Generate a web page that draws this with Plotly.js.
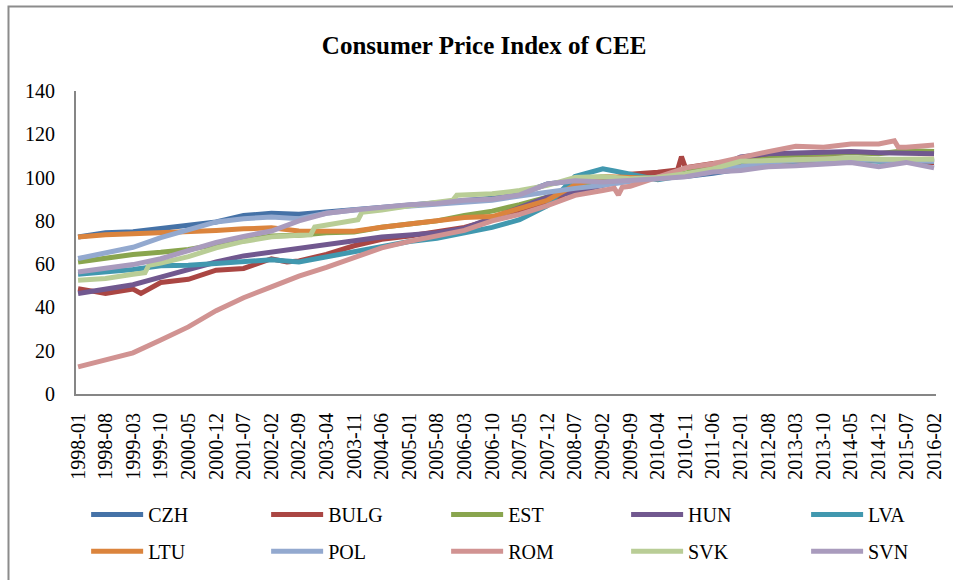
<!DOCTYPE html>
<html>
<head>
<meta charset="utf-8">
<script src="https://cdn.plot.ly/plotly-3.0.1.min.js"></script>
<style>html,body{margin:0;padding:0;background:#fff;}#chart{width:953px;height:580px;}</style>
</head>
<body>
<div id="chart"></div>
<script>
const months = ['1998-01','1998-08','1999-03','1999-05','1999-06','1999-07','1999-10','2000-05','2000-12','2001-07',
  '2002-02','2002-06','2002-09','2002-12','2003-01','2003-04','2003-11','2003-12','2004-01','2004-06',
  '2005-01','2005-08','2005-12','2006-01','2006-03','2006-10','2007-05','2007-12','2008-07','2009-02',
  '2009-05','2009-06','2009-07','2009-09','2010-04','2010-09','2010-10','2010-11','2011-06','2012-01',
  '2012-08','2013-03','2013-10','2014-05','2014-12','2015-04','2015-05','2015-07','2016-02'];

const tickLabels = ['1998-01','1998-08','1999-03','1999-10','2000-05','2000-12','2001-07','2002-02','2002-09','2003-04',
  '2003-11','2004-06','2005-01','2005-08','2006-03','2006-10','2007-05','2007-12','2008-07','2009-02',
  '2009-09','2010-04','2010-11','2011-06','2012-01','2012-08','2013-03','2013-10','2014-05','2014-12',
  '2015-07','2016-02'];

const seriesNames = ['CZH','BULG','EST','HUN','LVA','LTU','POL','ROM','SVK','SVN'];

const CZH = [72.5,74.5,75,null,null,null,76.5,78,79.5,82.5,
  83.5,null,83,null,null,84,85,null,null,86.5,
  87.5,88.3,null,null,89.5,90.5,92.5,97,98.5,98.5,
  null,null,null,99,100,null,null,100.5,102,104,
  106,107,107.5,108,108,null,null,108,108];
const BULG = [48.7,46.5,48.5,46.5,null,null,51.5,53,57.2,58,
  62.5,61,61.5,null,null,64.5,68.5,null,null,71.5,
  73,75,null,null,77,80.5,84,88,95,98.5,
  null,null,null,101.5,102.5,103.5,109.7,104.5,106.5,107.5,
  110,110.5,109.5,108.5,108,null,null,107,107];
const EST = [61,63,64.5,null,null,null,65.5,66.8,69,71,
  73,null,73.3,null,null,74.5,74.8,null,null,77,
  78.5,80,null,null,82.5,84.5,87.5,91,96.5,99,
  null,null,null,100,100,null,null,102,105.5,107,
  109,110.5,111,111.5,111,null,null,112.5,112];
const HUN = [46.4,48.3,50.5,null,null,null,54,57.5,61,63.8,
  65.5,null,67.5,null,null,68.7,70.5,null,null,72.5,
  73.5,74.5,null,null,76.5,81.5,86,91,93.3,96.4,
  null,null,null,99.5,100,null,null,101.5,104,109.5,
  111,111.5,112,112,111.5,null,null,111.5,111];
const LVA = [55.3,56.4,57.5,null,null,null,59.3,59.5,60.3,61,
  62,null,61,null,null,63.5,65.5,null,null,68,
  70.5,72,null,null,74.5,77,80.5,87,100.5,104,
  103,null,null,101.5,99,null,null,101,104.5,106,
  107,107,107.5,108,107.5,null,null,108,107.5];
const LTU = [72.5,73.6,74,null,null,null,74.5,74.7,75.6,76.3,
  76.8,null,75.3,null,null,75,75.2,null,null,77,
  78.5,80,null,null,81.5,82,85.6,89.5,96.5,100.5,
  null,null,null,100,99.5,null,null,101,104.5,105,
  107,108,108,108.5,108,null,null,108.5,108.5];
const POL = [62.6,65,67.8,null,null,null,72.3,76,79.5,81,
  81.8,null,81,null,null,83.5,85,null,null,86,
  87,87.5,null,null,88.5,89.5,91.5,93.5,95,96.5,
  null,null,null,98.5,100,null,null,101.5,104,105,
  107,108,108.5,108.5,108,null,null,107.5,107.5];
const ROM = [12.5,15.5,19,null,null,null,25,31,38.5,44.5,
  49.5,null,54.5,null,null,58.5,63,null,null,67.5,
  70.5,73,null,null,75.6,80,83,87,91.8,94,
  95,92,95.5,96,100.4,null,null,104.5,106.4,109.5,
  112,114.5,114,115.5,115.5,117,114,114,115];
const SVK = [52.6,53.4,55.3,null,56,59.5,60.5,63.5,67.5,70.5,
  72.6,null,73.3,73.5,77.2,78,80,80.5,84,85,
  87,88.5,89.5,91.8,92,92.5,94,96.4,100,100.5,
  null,null,null,99.5,100,null,null,101.8,104,107.5,
  108,108.5,109,109,108.5,null,null,108.7,108.5];
const SVN = [56.4,58,59.8,null,null,null,62.5,66,70,72.8,
  75.3,null,80,null,null,83.5,85,null,null,86.5,
  87.5,88,null,null,89.5,90,92,97,98.5,98,
  null,null,null,98.6,99.5,null,null,100.4,102.6,103.3,
  105,105.5,106.5,107,105,null,null,107,104.5];

const seriesValues = [CZH,BULG,EST,HUN,LVA,LTU,POL,ROM,SVK,SVN];
const colors = ['#4572A7','#AA4643','#89A54E','#71588F','#4198AF','#DB843D','#93A9CF','#D19392','#B9CD96','#A99BBD'];

const FONT = 'Liberation Serif, Times New Roman, serif';

const traces = seriesNames.map((name, i) => ({
  type: 'scatter',
  mode: 'lines',
  name: name,
  x: months,
  y: seriesValues[i],
  connectgaps: true,
  line: {color: colors[i], width: 5},
  legend: i < 5 ? 'legend' : 'legend2',
  hoverinfo: 'skip'
}));

const legendCommon = {
  orientation: 'h',
  xanchor: 'left',
  yanchor: 'top',
  font: {family: FONT, size: 20, color: '#000'},
  bgcolor: 'rgba(0,0,0,0)',
  itemwidth: 52,
  entrywidthmode: 'fraction',
  entrywidth: 0.1923,
  indentation: 11,
  tracegroupgap: 0
};

const layout = {
  width: 953,
  height: 580,
  margin: {l: 76, r: 17, t: 91, b: 186, autoexpand: false},
  paper_bgcolor: '#fff',
  plot_bgcolor: '#fff',
  font: {family: FONT, size: 20, color: '#000'},
  title: {
    text: '<b>Consumer Price Index of CEE</b>',
    font: {family: FONT, size: 25, color: '#000'},
    xref: 'container', x: 0.508, xanchor: 'center',
    yref: 'container', y: 0.922, yanchor: 'middle'
  },
  xaxis: {
    type: 'date',
    range: ['1997-12-16', '2016-02-16'],
    tickmode: 'array',
    tickvals: tickLabels,
    ticktext: tickLabels,
    tickangle: -90,
    ticks: 'outside',
    ticklen: 9,
    tickcolor: 'rgba(0,0,0,0)',
    showgrid: false,
    zeroline: false,
    showline: true,
    linecolor: '#868686',
    linewidth: 2,
    tickfont: {family: FONT, size: 20, color: '#000'}
  },
  yaxis: {
    range: [0, 140],
    tickmode: 'linear',
    tick0: 0,
    dtick: 20,
    ticks: 'outside',
    ticklen: 15,
    tickcolor: 'rgba(0,0,0,0)',
    showgrid: false,
    zeroline: false,
    showline: true,
    linecolor: '#868686',
    linewidth: 2,
    tickfont: {family: FONT, size: 20, color: '#000'}
  },
  showlegend: true,
  legend: Object.assign({}, legendCommon, {x: -0.001, y: -0.333}),
  legend2: Object.assign({}, legendCommon, {x: -0.001, y: -0.455}),
  shapes: [{
    type: 'rect', xref: 'paper', yref: 'paper',
    x0: -0.0785, x1: 1.2, y0: -1.0, y1: 1.2785,
    line: {color: '#8c8c8c', width: 2},
    fillcolor: 'rgba(0,0,0,0)',
    layer: 'below'
  }]
};

Plotly.newPlot('chart', traces, layout, {staticPlot: true, displayModeBar: false});
</script>
</body>
</html>
